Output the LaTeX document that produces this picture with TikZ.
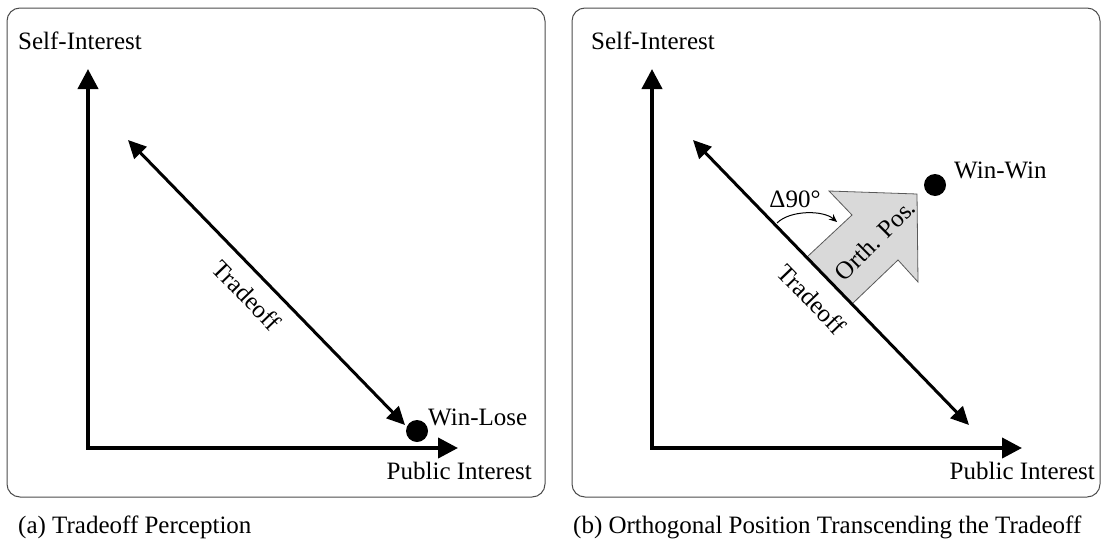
\documentclass[tikz,border=0pt]{standalone}
\usepackage{fontspec}
\setmainfont{Liberation Serif}
\usetikzlibrary{arrows.meta}
\begin{document}
\begin{tikzpicture}[x=1pt,y=-1pt,
  panel/.style={draw=black!70, line width=1pt, rounded corners=13pt},
  axis/.style={line width=4pt, -{Triangle[length=20pt,width=20pt]}},
  trade/.style={line width=3pt, {Triangle[length=18pt,width=17pt]}-{Triangle[length=18pt,width=17pt]}},
  lbl/.style={inner sep=0pt, font=\fontsize{25}{30}\selectfont},
  dot/.style={circle, fill=black, minimum size=22pt, inner sep=0pt},
  orth/.style={fill=black!15, draw=black!65, line width=0.8pt, line join=miter},
  angarrow/.style={line width=1pt, -{Stealth[length=8pt,width=7pt]}}
]
\useasboundingbox (0,0) rectangle (1102,538);

% ---------- panel (a) ----------
\draw[panel] (7,8) rectangle (545,497);
\coordinate (oa) at (88,448);
\coordinate (ya) at (88,69);
\coordinate (xa) at (458,448);
\draw[axis] (oa) -- (ya);
\draw[axis] ([xshift=-2pt]oa) -- (xa);
\coordinate (ta1) at (128,140);
\coordinate (ta2) at (405,425);
\draw[trade] (ta1) -- (ta2);
\node[dot] (winlose) at (417,431) {};
\node[lbl, anchor=west] (wl) at (428,417) {Win-Lose};
\node[lbl, anchor=west] (sia) at (18,41) {Self-Interest};
\node[lbl, anchor=east] (pia) at (532,471) {Public Interest};
\node[lbl, rotate=-46] (tra) at (247,295) {Tradeoff};
\node[lbl, anchor=west] (capa) at (18,527) {(a) Tradeoff Perception};

% ---------- panel (b) ----------
\draw[panel] (572,8) rectangle (1100,497);
\coordinate (ob) at (652,448);
\coordinate (yb) at (652,69);
\coordinate (xb) at (1022,448);
\draw[axis] (ob) -- (yb);
\draw[axis] ([xshift=-2pt]ob) -- (xb);
% orthogonal block arrow
\draw[orth] (807,257) -- (852,215) -- (829,191) -- (917,194) -- (918,282) -- (898,260) -- (852,304) -- cycle;
\coordinate (tb1) at (693,140);
\coordinate (tb2) at (969,425);
\draw[trade] (tb1) -- (tb2);
\node[dot] (winwin) at (935,185) {};
\node[lbl, anchor=west] (ww) at (954,170) {Win-Win};
\node[lbl, anchor=west] (sib) at (591,41) {Self-Interest};
\node[lbl, anchor=east] (pib) at (1095,471) {Public Interest};
\node[lbl, rotate=-46] (trb) at (812,299) {Tradeoff};
\node[lbl, rotate=45] (op) at (875,240) {Orth. Pos.};
\node[lbl] (delta) at (795,199) {Δ90°};
\coordinate (arcs) at (777,223);
\coordinate (arce) at (837,222);
\draw[angarrow] (arcs) .. controls (790,210) and (823,210) .. (arce);
\node[lbl, anchor=west] (capb) at (573,527) {(b) Orthogonal Position Transcending the Tradeoff};
\end{tikzpicture}
\end{document}
